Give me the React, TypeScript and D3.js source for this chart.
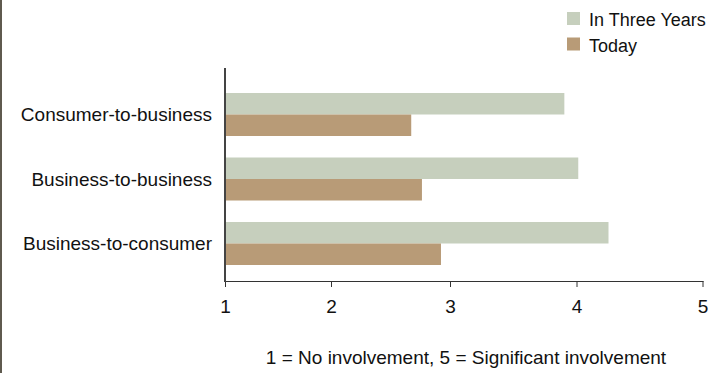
import React from "react";
import * as d3 from "d3";

// Survey results: involvement rating per commerce model
const categories = ["Consumer-to-business", "Business-to-business", "Business-to-consumer"];
const inThreeYears = [3.9, 4.01, 4.25];
const today = [2.67, 2.76, 2.92];
const tickValues = [1, 2, 3, 4, 5];
const seriesNames = ["In Three Years", "Today"];
const footnote = "1 = No involvement, 5 = Significant involvement";

const W = 721;
const H = 373;
const FONT = "'Liberation Sans', Arial, Helvetica, sans-serif";
const GREEN = "#c6cfbd";
const TAN = "#b89b77";

export default function App() {
  // Rating axis (tick spacing as printed on the scale)
  const x = d3.scaleLinear().domain(tickValues).range([225.5, 331.5, 450.5, 577, 703]);
  const y = d3
    .scaleBand<string>()
    .domain(categories)
    .range([82.25, 275.75])
    .paddingInner(1 / 3)
    .paddingOuter(1 / 6);
  const half = y.bandwidth() / 2;
  const axisY = 281;
  const colors = [GREEN, TAN];
  const series = [inThreeYears, today];

  return (
    <div style={{ position: "absolute", left: 0, top: 0 }}>
      <svg width={W} height={H} style={{ display: "block", fontFamily: FONT }}>
        <rect width={W} height={H} fill="#fff" />
        <rect x={0} y={0} width={2} height={H} fill="#5f5a4f" />

        {/* Legend */}
        {seriesNames.map((name, i) => (
          <g key={name} transform={`translate(567, ${12 + i * 25.5})`}>
            <rect width={13} height={13} fill={colors[i]} />
            <text x={22} y={14} fontSize={18} fill="#111">
              {name}
            </text>
          </g>
        ))}

        {/* Bars */}
        {categories.map((c, ci) =>
          series.map((vals, si) => (
            <rect
              key={c + si}
              x={x(1)}
              y={(y(c) as number) + si * half}
              width={x(vals[ci]) - x(1)}
              height={half}
              fill={colors[si]}
            />
          ))
        )}

        {/* Category labels */}
        {categories.map((c) => (
          <text
            key={c}
            x={212}
            y={(y(c) as number) + half}
            dy="0.35em"
            textAnchor="end"
            fontSize={19}
            fill="#111"
          >
            {c}
          </text>
        ))}

        {/* Value axis */}
        <line x1={x(1) - 1} x2={x(5) + 0.5} y1={axisY + 0.5} y2={axisY + 0.5} stroke="#333" strokeWidth={1} />
        {tickValues.map((t) => (
          <g key={t}>
            <line x1={x(t)} x2={x(t)} y1={axisY} y2={axisY + 6} stroke="#333" strokeWidth={1} />
            <text x={x(t)} y={313} textAnchor="middle" fontSize={19} fill="#111">
              {t}
            </text>
          </g>
        ))}
        <line x1={x(1) - 0.5} x2={x(1) - 0.5} y1={68} y2={axisY + 1} stroke="#444" strokeWidth={2} />

        <text x={466} y={364} textAnchor="middle" fontSize={19} fill="#111">
          {footnote}
        </text>
      </svg>
    </div>
  );
}
